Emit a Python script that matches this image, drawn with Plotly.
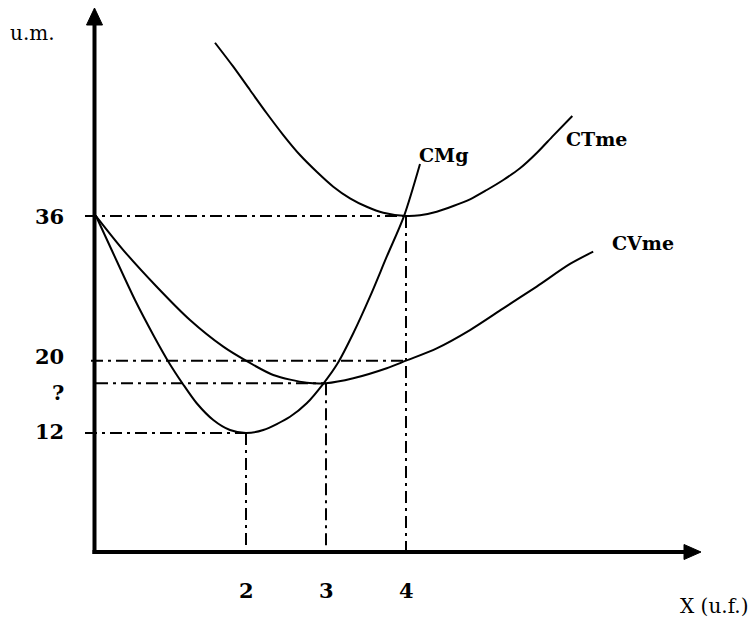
import plotly.graph_objects as go

# ---------------- data ----------------
cmg_x = [0.125, 0.321, 0.6125, 0.841, 1.0375, 1.209, 1.384, 1.591, 1.8, 2.0, 2.216, 2.55,
         2.759, 2.97, 3.146, 3.341, 3.55, 3.759, 3.975, 4.175]
cmg_y = [36.0, 32.24, 26.71, 22.85, 19.78, 17.45, 15.29, 13.44, 12.33, 12.0, 12.33, 13.8,
         15.29, 17.5, 19.71, 23.03, 27.08, 31.5, 36.0, 41.76]

cvme_x = [0.125, 0.466, 0.884, 1.3, 1.716, 2.0, 2.341, 2.759, 3.0, 3.341, 3.759, 4.0,
          4.384, 4.8, 5.216, 5.634, 6.05, 6.34]
cvme_y = [36.0, 32.24, 28.18, 24.5, 21.55, 20.0, 18.42, 17.56, 17.5, 18.05, 19.16, 20.0,
          21.37, 23.39, 25.79, 28.2, 30.7, 32.06]

ctme_x = [1.6125, 1.841, 2.05, 2.259, 2.466, 2.675, 2.884, 3.091, 3.3, 3.509, 3.716, 4.0,
          4.175, 4.384, 4.591, 4.8, 5.009, 5.216, 5.425, 5.634, 5.841, 6.079]
ctme_y = [55.17, 52.52, 49.94, 47.37, 44.96, 42.75, 40.9, 39.25, 37.96, 37.03, 36.37, 36.0,
          36.08, 36.48, 37.11, 37.85, 38.88, 39.99, 41.28, 42.97, 44.9, 47.07]

x_tick_vals = [2, 3, 4]
x_tick_text = ["2", "3", "4"]
y_tick_vals = [36, 20, 17.5, 12]
y_tick_text = ["36", "20", "?", "12"]

curve_names = ["CMg", "CTme", "CVme"]

# ---------------- geometry helpers (layout only) ----------------
W, H = 753, 623
X0_PX, X_SCALE = 86.0, 80.0          # px of x=0, px per unit
Y12_PX, Y_SCALE = 433.0, 9.04        # px of y=12, px per unit

def dx(px):
    return (px - X0_PX) / X_SCALE

def dy(py):
    return 12 + (Y12_PX - py) / Y_SCALE

SERIF = "DejaVu Serif"
BLACK = "#000000"
DASH = "12px,5px,3px,5px"

fig = go.Figure()

line_style = dict(color=BLACK, width=2, shape="spline", smoothing=0.8)
for xs, ys, nm in [(cmg_x, cmg_y, curve_names[0]), (ctme_x, ctme_y, curve_names[1]),
                   (cvme_x, cvme_y, curve_names[2])]:
    fig.add_trace(go.Scatter(x=xs, y=ys, mode="lines", line=line_style,
                             name=nm, hoverinfo="skip"))

shapes = []
axis_x = dx(94.5)
axis_y = dy(552)
# guide lines (dash-dot)
h_guides = [  # (y, x_start, x_end)
    (y_tick_vals[0], dx(85), x_tick_vals[2]),
    (y_tick_vals[1], dx(91), x_tick_vals[2]),
    (y_tick_vals[2], dx(96), x_tick_vals[1]),
    (y_tick_vals[3], dx(85), x_tick_vals[0]),
]
for yv, xa, xb in h_guides:
    shapes.append(dict(type="line", xref="x", yref="y", x0=xa, x1=xb, y0=yv, y1=yv,
                       line=dict(color=BLACK, width=2, dash=DASH)))
v_guides = [(x_tick_vals[0], y_tick_vals[3]), (x_tick_vals[1], y_tick_vals[2]),
            (x_tick_vals[2], y_tick_vals[0])]
for xv, yv in v_guides:
    shapes.append(dict(type="line", xref="x", yref="y", x0=xv, x1=xv, y0=yv, y1=dy(557),
                       line=dict(color=BLACK, width=2, dash=DASH)))

# axes
shapes.append(dict(type="line", xref="x", yref="y", x0=axis_x, x1=axis_x,
                   y0=dy(554), y1=dy(22), line=dict(color=BLACK, width=4)))
shapes.append(dict(type="line", xref="x", yref="y", x0=dx(92.5), x1=dx(688),
                   y0=axis_y, y1=axis_y, line=dict(color=BLACK, width=4)))
# arrow heads
shapes.append(dict(type="path", xref="x", yref="y",
                   path=f"M {dx(94.5)},{dy(8)} L {dx(102.5)},{dy(25)} L {dx(86.5)},{dy(25)} Z",
                   fillcolor=BLACK, line=dict(color=BLACK, width=1)))
shapes.append(dict(type="path", xref="x", yref="y",
                   path=f"M {dx(701)},{dy(552)} L {dx(684)},{dy(544.5)} L {dx(684)},{dy(559.5)} Z",
                   fillcolor=BLACK, line=dict(color=BLACK, width=1)))

annotations = []
# y tick labels
y_label_shift = [0, 4, -9, 2]
for v, t, s in zip(y_tick_vals, y_tick_text, y_label_shift):
    annotations.append(dict(x=dx(66), y=v, xref="x", yref="y", text=f"<b>{t}</b>",
                            showarrow=False, xanchor="right", yanchor="middle", yshift=s,
                            font=dict(family=SERIF, size=21, color=BLACK)))
# x tick labels
for v, t in zip(x_tick_vals, x_tick_text):
    annotations.append(dict(x=v, y=dy(590), xref="x", yref="y", text=f"<b>{t}</b>",
                            showarrow=False, xanchor="center", yanchor="middle",
                            font=dict(family=SERIF, size=21, color=BLACK)))
# curve labels
curve_label_pos = [(443, 155), (596, 139), (643, 243)]
for name, (px, py) in zip(curve_names, curve_label_pos):
    annotations.append(dict(x=dx(px), y=dy(py), xref="x", yref="y", text=f"<b>{name}</b>",
                            showarrow=False, xanchor="center", yanchor="middle",
                            font=dict(family=SERIF, size=19, color=BLACK)))
# axis titles
annotations.append(dict(x=dx(32), y=dy(33), xref="x", yref="y", text="u.m.",
                        showarrow=False, xanchor="center", yanchor="middle",
                        font=dict(family=SERIF, size=20, color=BLACK)))
annotations.append(dict(x=dx(714), y=dy(606), xref="x", yref="y", text="X (u.f.)",
                        showarrow=False, xanchor="center", yanchor="middle",
                        font=dict(family=SERIF, size=20, color=BLACK)))

fig.update_layout(
    width=W, height=H, autosize=False,
    margin=dict(l=0, r=0, t=0, b=0, pad=0),
    paper_bgcolor="white", plot_bgcolor="white",
    showlegend=False,
    shapes=shapes, annotations=annotations,
    xaxis=dict(range=[dx(0), dx(W)], visible=False, fixedrange=True),
    yaxis=dict(range=[dy(H), dy(0)], visible=False, fixedrange=True),
)

fig.write_html("out.html", config={"displayModeBar": False},
               post_script="document.body.style.margin='0';document.body.style.overflow='hidden';")
